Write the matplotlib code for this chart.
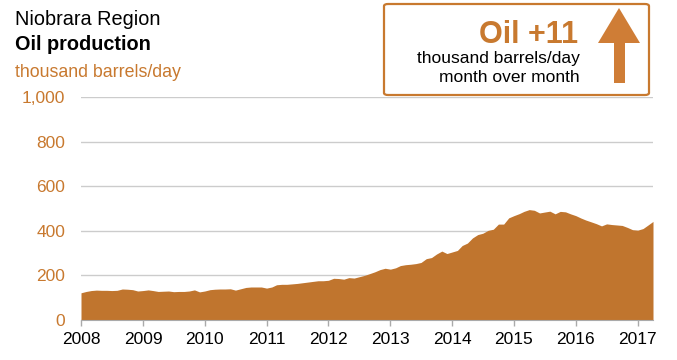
import numpy as np
import pandas as pd
import matplotlib
matplotlib.use("Agg")
import matplotlib.pyplot as plt
from matplotlib.patches import FancyBboxPatch, Polygon

plt.rcParams['font.family'] = ['Liberation Sans', 'DejaVu Sans']

# datos mensuales, ene 2008 - abr 2017 (miles de barriles/dia)
produccion = [
    122, 128, 132, 134, 133, 133, 132, 133, 139, 138, 136, 130,  # 2008
    132, 135, 132, 128, 129, 130, 127, 128, 128, 130, 135, 126,  # 2009
    130, 136, 138, 139, 139, 140, 134, 140, 146, 148, 148, 148,  # 2010
    143, 148, 158, 160, 160, 162, 164, 167, 170, 173, 176, 176,  # 2011
    178, 187, 186, 183, 190, 188, 194, 200, 208, 216, 226, 232,  # 2012
    228, 234, 244, 248, 250, 253, 258, 275, 280, 296, 309, 298,  # 2013
    305, 312, 334, 345, 368, 383, 389, 402, 407, 430, 430, 458,  # 2014
    468, 477, 487, 495, 492, 480, 484, 488, 476, 487, 485, 476,  # 2015
    468, 457, 448, 440, 432, 422, 431, 428, 426, 424, 415, 405,  # 2016
    403, 410, 425, 442,                                          # 2017
]
fechas = pd.date_range("2008-01-01", periods=len(produccion), freq="MS")
anios = list(range(2008, 2018))
y_ticks = [0, 200, 400, 600, 800, 1000]
y_etiquetas = ["0", "200", "400", "600", "800", "1,000"]

titulo = "Niobrara Region"
subtitulo = "Oil production"
unidades = "thousand barrels/day"
cambio = "Oil +11"
cambio_l1 = "thousand barrels/day"
cambio_l2 = "month over month"

naranja = "#C0752E"
naranja_texto = "#C8792F"
naranja_flecha = "#CF7D36"

W, H = 677, 360
fig = plt.figure(figsize=(W / 100, H / 100), dpi=100)
ax = fig.add_axes([81 / W, 1 - 320 / H, (653 - 81) / W, (320 - 97) / H])

ax.fill_between(fechas, produccion, 0, color=naranja, lw=0, zorder=3)

ax.set_xlim(fechas[0], fechas[-1])
ax.set_ylim(0, 1000)
ax.set_xticks([pd.Timestamp(f"{a}-01-01") for a in anios])
ax.set_xticklabels([str(a) for a in anios], fontsize=12.5, color="black")
ax.set_yticks(y_ticks)
ax.set_yticklabels(y_etiquetas, fontsize=12.5, color=naranja_texto)
ax.tick_params(axis="y", length=0, pad=11.5)
ax.tick_params(axis="x", length=4, width=1, color="#AAAAAA", pad=5)
ax.grid(axis="y", color="#CCCCCC", lw=1, zorder=1)
for s in ["top", "right", "left"]:
    ax.spines[s].set_visible(False)
ax.spines["bottom"].set_color("#AAAAAA")
ax.spines["bottom"].set_zorder(4)

# titulos
fig.text(15 / W, 1 - 25 / H, titulo, fontsize=14.3, color="black", ha="left", va="baseline")
fig.text(15 / W, 1 - 50 / H, subtitulo, fontsize=14.3, fontweight="bold", color="black",
         ha="left", va="baseline")
fig.text(15 / W, 1 - 77 / H, unidades, fontsize=12.8, color=naranja_texto, ha="left", va="baseline")

# recuadro del cambio mensual
caja = FancyBboxPatch((384 / W, 1 - 95 / H), (649 - 384) / W, (95 - 4) / H,
                      boxstyle="round,pad=0,rounding_size=0.006", transform=fig.transFigure,
                      fc="white", ec=naranja_texto, lw=1.6)
fig.patches.append(caja)
fig.text(578 / W, 1 - 43 / H, cambio, fontsize=22, fontweight="bold", color=naranja_texto,
         ha="right", va="baseline")
fig.text(580 / W, 1 - 63 / H, cambio_l1, fontsize=12.5, color="black", ha="right", va="baseline")
fig.text(580 / W, 1 - 82 / H, cambio_l2, fontsize=12.5, color="black", ha="right", va="baseline")

pts = [(619, 8), (640, 43), (625, 43), (625, 83), (614, 83), (614, 43), (598, 43)]
flecha = Polygon([(x / W, 1 - y / H) for x, y in pts], closed=True, transform=fig.transFigure,
                 fc=naranja_flecha, ec="none")
fig.patches.append(flecha)

fig.savefig("out.png", dpi=100)
